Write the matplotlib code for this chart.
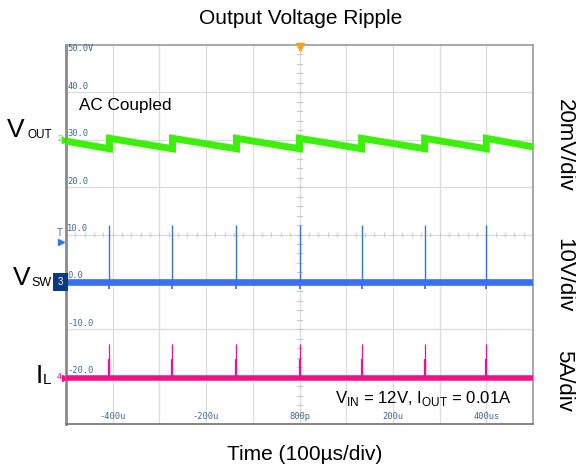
import matplotlib

matplotlib.use("Agg")
import matplotlib.pyplot as plt

# scope screen, 10 divisions across (µs) and 8 divisions high (screen units)
time_ticks = [-400, -200, 0, 200, 400]
time_labels = ["-400u", "-200u", "800p", "200u", "400us"]
level_ticks = [50, 40, 30, 20, 10, 0, -10, -20]
level_labels = ["50.0V", "40.0", "30.0", "20.0", "10.0", "0.0", "-10.0", "-20.0"]

# switching events (µs)
switch_times = [-407, -272, -135, 0, 133, 268, 400]

# V_OUT sawtooth corners (AC coupled, channel 2)
vout_t = [-500, -407, -407, -272, -272, -135, -135, 0, 0, 133, 133, 268, 268, 400, 400, 500]
vout_v = [29.7, 28.1, 30.3, 28.1, 30.3, 28.1, 30.3, 28.1, 30.3, 28.1, 30.3, 28.1, 30.3, 28.1, 30.3, 28.5]

# V_SW (channel 3)
vsw_base = 0.0
vsw_peak = [12.0, 12.0, 12.0, 12.0, 12.0, 12.0, 12.0]
vsw_dip = [-1.6, -1.6, -1.6, -1.6, -1.6, -1.6, -1.6]

# I_L (channel 4)
il_base = -20.2
il_peak = [-13.2, -13.2, -13.2, -13.2, -13.2, -13.2, -13.2]
il_mid = [-16.3, -16.3, -16.3, -16.3, -16.3, -16.3, -16.3]

GREEN = "#3cf00a"
BLUE = "#3a6ff0"
PINK = "#f0108a"
SCALE_BLUE = "#3a6a9e"

plt.rcParams["font.family"] = ["Liberation Sans", "DejaVu Sans"]

fig = plt.figure(figsize=(5.76, 4.74), dpi=100)
ax = fig.add_axes([66 / 576, 1 - 424 / 474, 467 / 576, 379 / 474])
ax.set_xlim(-500, 500)
ax.set_ylim(-30, 50)

# grid
for x in range(-400, 500, 100):
    ax.axvline(x, color="#dcdcdc", lw=0.9, zorder=0)
for y in range(-20, 50, 10):
    ax.axhline(y, color="#dcdcdc", lw=0.9, zorder=0)
# minor ticks on centre lines
for i in range(-25, 26):
    x = i * 20
    ax.plot([x, x], [9.6, 10.4], color="#c8c8c8", lw=0.8, zorder=0)
for i in range(-20, 21):
    y = 10 + i * 2
    ax.plot([-6, 6], [y, y], color="#c8c8c8", lw=0.8, zorder=0)

ax.set_xticks([])
ax.set_yticks([])
for side in ["top", "right"]:
    ax.spines[side].set_color("#9a9a9a")
    ax.spines[side].set_linewidth(1.2)
ax.spines["left"].set_color("#8a8a8a")
ax.spines["left"].set_linewidth(2.0)
ax.spines["bottom"].set_color("#707070")
ax.spines["bottom"].set_linewidth(1.2)

# scale labels inside screen
for y, lab in zip(level_ticks, level_labels):
    ax.text(-497, y + 0.3, lab, family="DejaVu Sans Mono", fontsize=6.3,
            color=SCALE_BLUE, va="bottom" if y < 50 else "top", ha="left")
for x, lab in zip(time_ticks, time_labels):
    ax.text(x, -29.4, lab, family="DejaVu Sans Mono", fontsize=6.3,
            color=SCALE_BLUE, va="bottom", ha="center")

# traces
ax.plot(vout_t, vout_v, color=GREEN, lw=5.0, solid_capstyle="butt",
        solid_joinstyle="miter", zorder=3)

ax.axhline(vsw_base, color=BLUE, lw=4.8, zorder=3)
ax.vlines(switch_times, vsw_base, vsw_peak, color=BLUE, lw=1.0, zorder=3)
ax.vlines(switch_times, vsw_dip, vsw_base, color=BLUE, lw=1.3, zorder=3)

ax.axhline(il_base, color=PINK, lw=4.0, zorder=3)
ax.vlines(switch_times, il_base, il_peak, color=PINK, lw=0.9, zorder=3)
ax.vlines(switch_times, il_base, il_mid, color=PINK, lw=1.6, zorder=3)

# trigger marker and channel markers
ax.plot([0], [49.6], marker="v", color="#f5a020", ms=6, clip_on=False, zorder=5)
ax.text(-508, 30.3, "2", color=GREEN, fontsize=6.5, ha="right", va="center")
ax.plot([-503], [30], marker=">", color=GREEN, ms=4, clip_on=False)
ax.text(-508, 10.3, "T", color=BLUE, fontsize=7, ha="right", va="center")
ax.plot([-510], [8.4], marker=">", color=BLUE, ms=4, clip_on=False)
ax.text(-506, 0, "3", color="white", fontsize=7, ha="right", va="center",
        bbox=dict(boxstyle="square,pad=0.45", fc="#0a3a80", ec="none"), zorder=6)
ax.text(-508, -19.9, "4", color=PINK, fontsize=6.5, ha="right", va="center")
ax.plot([-503], [-20.2], marker=">", color=PINK, ms=4, clip_on=False)

# annotations
ax.text(-472, 37.3, "AC Coupled", fontsize=12.3, ha="left", va="center")
ax.text(75, -24.7, r"V$_{\mathregular{IN}}$ = 12V, I$_{\mathregular{OUT}}$ = 0.01A",
        fontsize=12.1, ha="left", va="center")


# channel names (big letter + smaller suffix, shared baseline)
def channel_name(x_main, x_sub, y_base, main, sub, sub_size):
    fig.text(x_main / 576, 1 - y_base / 474, main, fontsize=19, ha="left", va="baseline")
    fig.text(x_sub / 576, 1 - (y_base + 1) / 474, sub, fontsize=sub_size, ha="left", va="baseline")


channel_name(7, 27, 137, "V", "OUT", 8.5)
channel_name(13, 31, 285, "V", "SW", 9)
channel_name(36, 43, 383, "I", "L", 11)

fig.text(564 / 576, 1 - 145 / 474, "20mV/div", fontsize=16, rotation=-90, ha="center", va="center")
fig.text(564 / 576, 1 - 275 / 474, "10V/div", fontsize=16, rotation=-90, ha="center", va="center")
fig.text(564 / 576, 1 - 381 / 474, "5A/div", fontsize=16, rotation=-90, ha="center", va="center")

fig.text(301 / 576, 1 - 18 / 474, "Output Voltage Ripple", fontsize=15, ha="center", va="center")
fig.text(305 / 576, 1 - 455 / 474, "Time (100\u00b5s/div)", fontsize=15, ha="center", va="center")

fig.savefig("out.png", dpi=100)
